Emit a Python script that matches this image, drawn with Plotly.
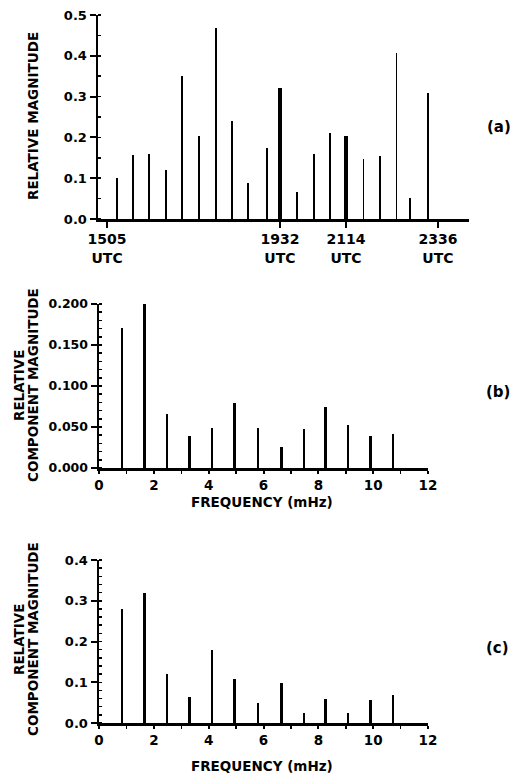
import plotly.graph_objects as go

# ---------------- data ----------------
# (a) relative magnitude of events, time in UTC (HHMM)
times_a = ["1520", "1545", "1610", "1636", "1701", "1727", "1753", "1818", "1843",
           "1912", "1932", "1958", "2024", "2049", "2114", "2141", "2206", "2232",
           "2253", "2321"]
mag_a = [0.100, 0.157, 0.159, 0.120, 0.350, 0.203, 0.467, 0.241, 0.088,
         0.175, 0.322, 0.067, 0.159, 0.212, 0.203, 0.147, 0.155, 0.408,
         0.051, 0.308]
thick_a = ["1932", "2114"]
ticks_a = ["1505", "1932", "2114", "2336"]

# (b), (c) spectral components, frequency in mHz
freq = [0.83, 1.65, 2.48, 3.31, 4.12, 4.94, 5.80, 6.64, 7.47, 8.27, 9.08, 9.91, 10.73]
mag_b = [0.171, 0.200, 0.066, 0.039, 0.049, 0.079, 0.049, 0.026, 0.047, 0.075,
         0.052, 0.039, 0.042]
mag_c = [0.280, 0.318, 0.120, 0.064, 0.180, 0.108, 0.048, 0.097, 0.025, 0.058,
         0.025, 0.057, 0.069]


def to_min(hhmm):
    return int(hhmm[:2]) * 60 + int(hhmm[2:])


W, H = 515, 776
def px_x(p):
    return p / W
def px_y(p):
    return 1 - p / H

FONT = "DejaVu Sans"
x_a = [to_min(t) for t in times_a]
w_a = [5.0 if t in thick_a else 2.9 for t in times_a]
w_f = [0.11 if (i % 2 == 1) else 0.065 for i in range(len(freq))]

fig = go.Figure()
fig.add_trace(go.Bar(x=x_a, y=mag_a, width=w_a, marker=dict(color="black", line=dict(width=0)),
                     xaxis="x", yaxis="y", showlegend=False))
fig.add_trace(go.Bar(x=freq, y=mag_b, width=w_f, marker=dict(color="black", line=dict(width=0)),
                     xaxis="x2", yaxis="y2", showlegend=False))
fig.add_trace(go.Bar(x=freq, y=mag_c, width=w_f, marker=dict(color="black", line=dict(width=0)),
                     xaxis="x3", yaxis="y3", showlegend=False))

axis_common = dict(showline=True, linewidth=2.5, linecolor="black", showgrid=False,
                   zeroline=False, ticks="outside", tickcolor="black", tickwidth=2,
                   automargin=False, fixedrange=True)

def tf(size):
    return dict(family=FONT, size=size, color="black", weight="bold")

fig.update_layout(
    width=W, height=H,
    margin=dict(l=0, r=0, t=0, b=0),
    paper_bgcolor="white", plot_bgcolor="white",
    font=dict(family=FONT, size=13, color="black", weight="bold"),
    bargap=0,
    xaxis=dict(**axis_common, domain=[px_x(98), px_x(469)], range=[891, 1464],
               tickvals=[to_min(t) for t in ticks_a],
               ticktext=[t + "<br>UTC" for t in ticks_a],
               ticklen=6, anchor="y", tickfont=tf(14)),
    yaxis=dict(**axis_common, domain=[px_y(219), px_y(15)], range=[0, 0.5],
               dtick=0.1, tickformat=".1f", ticklen=6, anchor="x",
               tickfont=tf(13),
               minor=dict(dtick=0.05, ticks="inside", ticklen=3, tickwidth=1.5,
                          tickcolor="black")),
    xaxis2=dict(**axis_common, domain=[px_x(99), px_x(428)], range=[0, 12],
                dtick=2, ticklen=3, anchor="y2", tickfont=tf(13.5),
                minor=dict(dtick=1, ticks="outside", ticklen=3, tickwidth=1.5,
                           tickcolor="black")),
    yaxis2=dict(**axis_common, domain=[px_y(468), px_y(304)], range=[0, 0.2],
                dtick=0.05, tickformat=".3f", ticklen=6, anchor="x2",
                tickfont=tf(12.5),
                minor=dict(dtick=0.01, ticks="inside", ticklen=3, tickwidth=1.5,
                           tickcolor="black")),
    xaxis3=dict(**axis_common, domain=[px_x(99), px_x(428)], range=[0, 12],
                dtick=2, ticklen=3, anchor="y3", tickfont=tf(13.5),
                minor=dict(dtick=1, ticks="outside", ticklen=3, tickwidth=1.5,
                           tickcolor="black")),
    yaxis3=dict(**axis_common, domain=[px_y(723), px_y(560)], range=[0, 0.4],
                dtick=0.1, tickformat=".1f", ticklen=6, anchor="x3",
                tickfont=tf(13),
                minor=dict(dtick=0.02, ticks="inside", ticklen=3, tickwidth=1.5,
                           tickcolor="black")),
)

def ann(text, x, y, size=13.5, angle=0):
    fig.add_annotation(text=text, x=px_x(x), y=px_y(y), xref="paper", yref="paper",
                       showarrow=False, textangle=angle, xanchor="center", yanchor="middle",
                       font=tf(size))

# y titles
ann("RELATIVE MAGNITUDE", 33, 116, angle=-90)
ann("RELATIVE", 19, 385, angle=-90)
ann("COMPONENT MAGNITUDE", 33, 385, angle=-90)
ann("RELATIVE", 19, 639, angle=-90)
ann("COMPONENT MAGNITUDE", 33, 639, angle=-90)
# x titles
ann("FREQUENCY (mHz)", 262, 502)
ann("FREQUENCY (mHz)", 262, 766)
# panel labels
ann("(a)", 499, 127, size=15)
ann("(b)", 498, 392, size=15)
ann("(c)", 497, 648, size=15)

fig.write_html("out.html", config={"displayModeBar": False, "staticPlot": True})

# remove the default page margin so the figure sits at the window's top-left corner
with open("out.html", "r", encoding="utf-8") as f:
    html = f.read()
html = html.replace("<head>", "<head><style>html,body{margin:0;padding:0;overflow:hidden;}</style>", 1)
with open("out.html", "w", encoding="utf-8") as f:
    f.write(html)
